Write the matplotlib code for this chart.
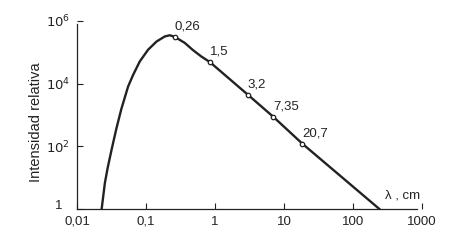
import numpy as np
import matplotlib
matplotlib.use("Agg")
import matplotlib.pyplot as plt
import matplotlib.transforms as mtransforms

plt.rcParams['font.family'] = ['Liberation Sans', 'DejaVu Sans']

# curve (wavelength in cm, relative intensity)
lam = [0.0228, 0.0254, 0.0278, 0.0317, 0.0375, 0.044, 0.0551, 0.0651,
       0.0813, 0.107, 0.142, 0.187, 0.221, 0.261, 0.364, 0.474, 0.63,
       0.84, 3.0, 7.0, 18.5, 240]
inten = [1, 6.8, 20, 77, 390, 1560, 8100, 1.9e4,
         5.1e4, 1.2e5, 2.2e5, 3.2e5, 3.5e5, 3.1e5, 2.0e5, 1.2e5, 7.4e4,
         4.9e4, 4400, 870, 120, 1]

# marked points and their labels
pt_lam = [0.261, 0.84, 3.0, 7.0, 18.5]
pt_int = [3.1e5, 4.9e4, 4400, 870, 120]
pt_labels = ["0,26", "1,5", "3,2", "7,35", "20,7"]

xticks = [0.01, 0.1, 1, 10, 100, 1000]
xticklabels = ["0,01", "0,1", "1", "10", "100", "1000"]
yticks = [1, 1e2, 1e4, 1e6]
yticklabels = ["1", r"$10^2$", r"$10^4$", r"$10^6$"]

fig = plt.figure(figsize=(4.5, 2.41), dpi=100)
ax = fig.add_axes([0.171, 0.133, 0.767, 0.78])

ax.plot(lam, inten, color='#222222', lw=1.7, solid_joinstyle='round')
ax.plot(pt_lam, pt_int, 'o', ms=3.2, mfc='white', mec='#222222', mew=0.9)
for x, y, s in zip(pt_lam, pt_int, pt_labels):
    ax.annotate(s, (x, y), xytext=(0, 3), textcoords='offset points',
                ha='left', va='bottom', fontsize=9.5, color='#222222')

ax.set_xscale('log')
ax.set_yscale('log')
ax.set_xlim(0.01, 1000)
ax.set_ylim(1, 1e6)
ax.minorticks_off()
ax.set_xticks(xticks)
ax.set_xticklabels(xticklabels)
ax.set_yticks(yticks)
ax.set_yticklabels(yticklabels)
ax.tick_params(direction='in', length=4, width=0.8, labelsize=9.5,
               colors='#222222', pad=5)
ax.tick_params(axis='x', pad=5)

# the "1" on the y axis sits a little further left and higher
lab1 = ax.get_yticklabels()[0]
lab1.set_transform(lab1.get_transform() +
                   mtransforms.ScaledTranslation(-0.08, 0.04, fig.dpi_scale_trans))

for s in ['top', 'right']:
    ax.spines[s].set_visible(False)
for s in ['left', 'bottom']:
    ax.spines[s].set_linewidth(0.9)
    ax.spines[s].set_color('#222222')
ax.spines['bottom'].set_bounds(0.01, 850)
ax.spines['left'].set_bounds(1, 8e5)

ax.set_ylabel("Intensidad relativa", fontsize=10.5, color='#222222')
ax.yaxis.set_label_coords(-0.099, 0.464)
ax.text(0.893, 0.04, "λ , cm", transform=ax.transAxes, fontsize=9.5,
        color='#222222', ha='left', va='bottom')

fig.savefig("out.png", dpi=100)
